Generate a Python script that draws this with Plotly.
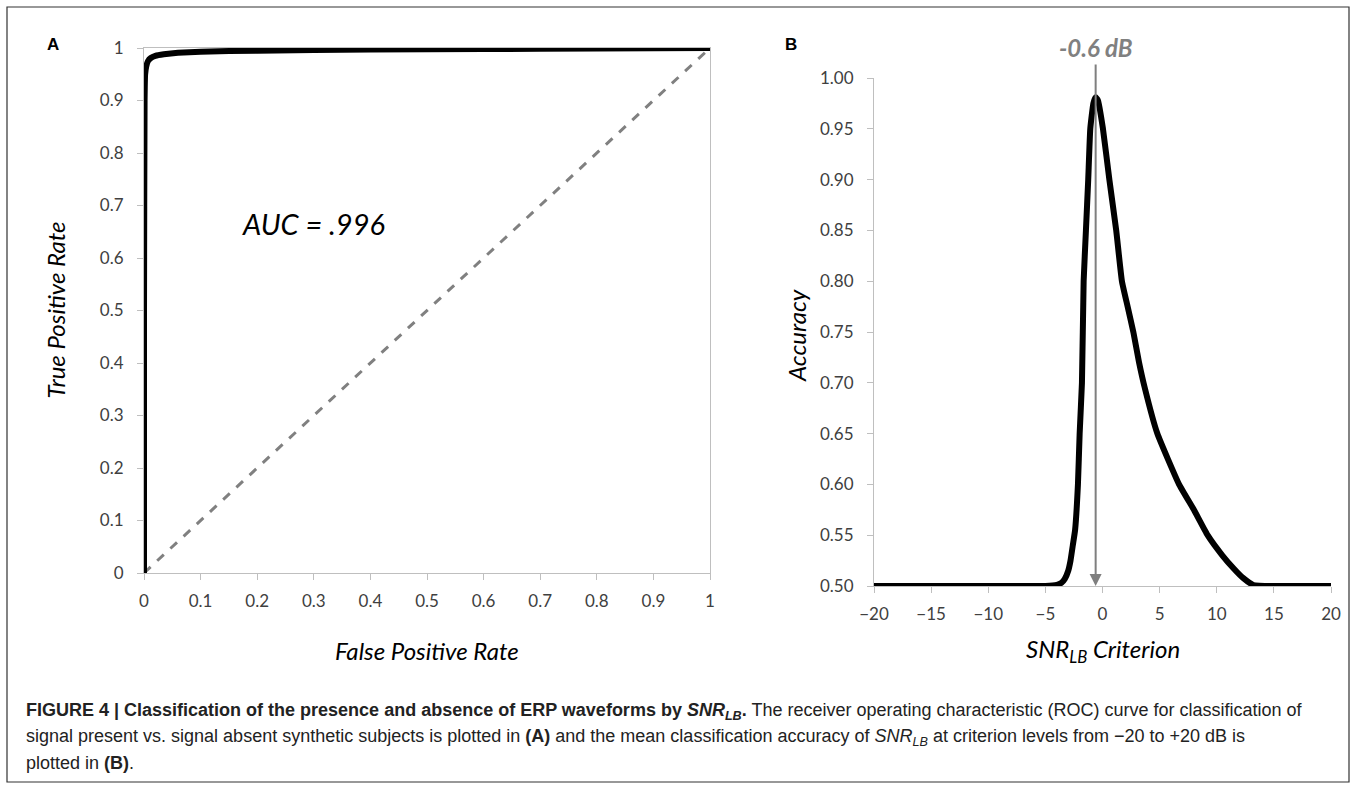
import plotly.graph_objects as go

# ---- Data ----
# Panel A: ROC curve
roc_fpr = [0.0, 0.0, 0.001, 0.002, 0.004, 0.007, 0.012, 0.02, 0.035, 0.06, 0.1, 0.2, 0.4, 0.6, 0.8, 1.0]
roc_tpr = [0.0, 0.5, 0.90, 0.95, 0.965, 0.975, 0.981, 0.985, 0.988, 0.991, 0.993, 0.995, 0.997, 0.998, 0.999, 1.0]
chance_x = [0.0, 1.0]
chance_y = [0.0, 1.0]
auc_text = "AUC = .996"

# Panel B: accuracy vs SNR_LB criterion
snr_x = [-20, -10, -5, -4, -3.6, -3.3, -3.0, -2.8, -2.6, -2.4, -2.15, -2.0, -1.8, -1.65, -1.45, -1.25, -1.07,
         -0.8, -0.6, -0.4, 0.04, 0.6, 1.2, 1.7, 2.2, 2.7, 3.2, 3.7, 4.8, 6.7, 8.0, 9.2, 10.5, 11.5, 12.3, 13.2, 15, 20]
acc_y = [0.50, 0.50, 0.50, 0.501, 0.503, 0.507, 0.515, 0.525, 0.54, 0.555, 0.60, 0.65, 0.70, 0.80, 0.85, 0.90, 0.95,
         0.975, 0.981, 0.978, 0.95, 0.90, 0.85, 0.80, 0.775, 0.75, 0.72, 0.695, 0.65, 0.60, 0.575, 0.55, 0.53, 0.517, 0.508, 0.501, 0.50, 0.50]
peak_x = -0.6
peak_label = "-0.6 dB"

x_ticks_a = [0, 0.1, 0.2, 0.3, 0.4, 0.5, 0.6, 0.7, 0.8, 0.9, 1]
x_ticktext_a = ["0", "0.1", "0.2", "0.3", "0.4", "0.5", "0.6", "0.7", "0.8", "0.9", "1"]
y_ticks_b = [0.50, 0.55, 0.60, 0.65, 0.70, 0.75, 0.80, 0.85, 0.90, 0.95, 1.00]
x_ticks_b = [-20, -15, -10, -5, 0, 5, 10, 15, 20]

caption_lines = [
    "<b>FIGURE 4 | Classification of the presence and absence of ERP waveforms by <i>SNR<sub>LB</sub></i>.</b> "
    "The receiver operating characteristic (ROC) curve for classification of",
    "signal present vs. signal absent synthetic subjects is plotted in <b>(A)</b> and the mean classification "
    "accuracy of <i>SNR<sub>LB</sub></i> at criterion levels from \u221220 to +20 dB is",
    "plotted in <b>(B)</b>.",
]

W, H = 1354, 787
def px(x):
    return x / W
def py(y):
    return 1 - y / H

FONT = "Lato, Open Sans, sans-serif"
TICKC = "#404040"
AXC = "#bfbfbf"

fig = go.Figure()

fig.add_trace(go.Scatter(x=chance_x, y=chance_y, mode="lines",
                         line=dict(color="#808080", width=3, dash="dash"),
                         xaxis="x", yaxis="y", showlegend=False, hoverinfo="skip"))
fig.add_trace(go.Scatter(x=roc_fpr, y=roc_tpr, mode="lines",
                         line=dict(color="black", width=6, shape="spline", smoothing=0.3),
                         xaxis="x", yaxis="y", showlegend=False, cliponaxis=False))
fig.add_trace(go.Scatter(x=snr_x, y=acc_y, mode="lines",
                         line=dict(color="black", width=6, shape="spline", smoothing=0.4),
                         xaxis="x2", yaxis="y2", showlegend=False, cliponaxis=False))

# Panel positions in pixels
ax_l, ax_r, ay_t, ay_b = 144, 710, 48, 573
bx_l, bx_r, by_t, by_b = 874, 1331, 78, 586

common = dict(showgrid=False, zeroline=False, linecolor=AXC, linewidth=1, ticks="outside",
              ticklen=6, tickcolor=AXC, automargin=False,
              tickfont=dict(family=FONT, size=17, color=TICKC))

fig.update_layout(
    template="none",
    width=W, height=H,
    margin=dict(l=0, r=0, t=0, b=0, pad=0),
    paper_bgcolor="white", plot_bgcolor="white",
    xaxis=dict(domain=[px(ax_l), px(ax_r)], range=[0, 1], anchor="y", mirror=True,
               tickvals=x_ticks_a, ticktext=x_ticktext_a, ticklabelstandoff=7, **common),
    yaxis=dict(domain=[py(ay_b), py(ay_t)], range=[0, 1], anchor="x", mirror=True,
               tickvals=x_ticks_a, ticktext=x_ticktext_a, ticklabelstandoff=10, **common),
    xaxis2=dict(domain=[px(bx_l), px(bx_r)], range=[-20, 20], anchor="y2",
                tickvals=x_ticks_b, ticklabelstandoff=7, **common),
    yaxis2=dict(domain=[py(by_b), py(by_t)], range=[0.5, 1.0], anchor="x2",
                tickvals=y_ticks_b, tickformat=".2f", ticklabelstandoff=10, **common),
)

annotations = []
lab_font = dict(family="Liberation Sans, Arial", size=17, color="black")
annotations.append(dict(x=px(53), y=py(45), xref="paper", yref="paper", text="<b>A</b>",
                        showarrow=False, xanchor="center", yanchor="middle", font=lab_font))
annotations.append(dict(x=px(791), y=py(44), xref="paper", yref="paper", text="<b>B</b>",
                        showarrow=False, xanchor="center", yanchor="middle", font=lab_font))
tfont = dict(family=FONT, size=24, color="black")
annotations.append(dict(x=px((ax_l + ax_r) / 2), y=py(650), xref="paper", yref="paper",
                        text="<i>False Positive Rate</i>", showarrow=False,
                        xanchor="center", yanchor="middle", font=tfont))
annotations.append(dict(x=px(55), y=py((ay_t + ay_b) / 2), xref="paper", yref="paper",
                        text="<i>True Positive Rate</i>", showarrow=False, textangle=-90,
                        xanchor="center", yanchor="middle", font=tfont))
annotations.append(dict(x=px((bx_l + bx_r) / 2), y=py(650), xref="paper", yref="paper",
                        text="<i>SNR<sub>LB</sub> Criterion</i>", showarrow=False,
                        xanchor="center", yanchor="middle", font=tfont))
annotations.append(dict(x=px(796), y=py(336), xref="paper", yref="paper",
                        text="<i>Accuracy</i>", showarrow=False, textangle=-90,
                        xanchor="center", yanchor="middle", font=tfont))
annotations.append(dict(x=0.30, y=0.665, xref="x", yref="y", text="<i>" + auc_text + "</i>",
                        showarrow=False, xanchor="center", yanchor="middle",
                        font=dict(family=FONT, size=29, color="black")))
annotations.append(dict(x=peak_x, y=0.5, xref="x2", yref="y2", ax=peak_x, ay=1.0148,
                        axref="x2", ayref="y2", text="", showarrow=True, arrowhead=2,
                        arrowsize=1.2, arrowwidth=2, arrowcolor="#7f7f7f"))
annotations.append(dict(x=peak_x, y=py(47), xref="x2", yref="paper", text="<b><i>" + peak_label + "</i></b>",
                        showarrow=False, xanchor="center", yanchor="middle",
                        font=dict(family=FONT, size=24, color="#808080")))
cap_font = dict(family="Liberation Sans, Arial", size=18, color="#222222")
for i, line in enumerate(caption_lines):
    annotations.append(dict(x=px(24), y=py(711 + i * 26), xref="paper", yref="paper", text=line,
                            showarrow=False, xanchor="left", yanchor="middle", font=cap_font))
fig.update_layout(annotations=annotations)

fig.add_shape(type="rect", xref="paper", yref="paper", x0=px(7), x1=px(1349), y0=py(782), y1=py(7),
              line=dict(color="#333333", width=1.2))

fig.write_html("out.html", config={"displayModeBar": False},
               post_script="document.body.style.margin='0';")
